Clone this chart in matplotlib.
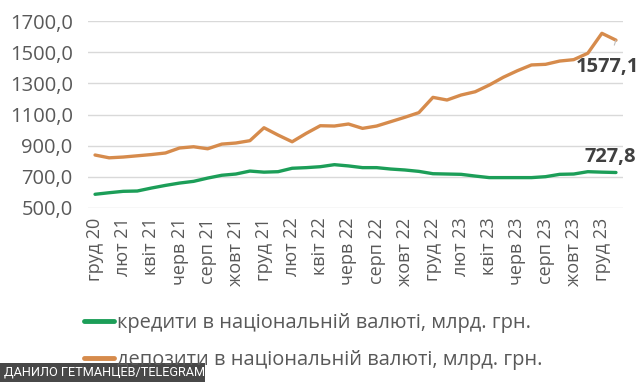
import numpy as np
import matplotlib.pyplot as plt
from matplotlib.patches import Rectangle

plt.rcParams['font.family'] = ['Open Sans', 'DejaVu Sans']

# підписи осі X (кожен другий місяць, груд 2020 - груд 2023)
tick_labels = ['груд 20', 'лют 21', 'квіт 21', 'черв 21', 'серп 21', 'жовт 21',
               'груд 21', 'лют 22', 'квіт 22', 'черв 22', 'серп 22', 'жовт 22',
               'груд 22', 'лют 23', 'квіт 23', 'черв 23', 'серп 23', 'жовт 23',
               'груд 23']

# кредити в національній валюті, млрд. грн (груд 20 - січ 24)
kredyty = [588, 598, 607, 609, 628, 645, 660, 671, 692, 710, 718, 737,
           730, 733, 755, 759, 765, 778, 770, 759, 759, 750, 744, 735,
           720, 718, 716, 705, 695, 695, 695, 695, 701, 716, 718, 733,
           730, 727.8]

# депозити в національній валюті, млрд. грн
depozyty = [840, 822, 827, 835, 843, 853, 885, 893, 880, 910, 917, 932,
            1015, 968, 925, 979, 1028, 1026, 1039, 1011, 1026, 1054, 1082, 1112,
            1210, 1193, 1225, 1246, 1289, 1339, 1381, 1418, 1422, 1443, 1452, 1493,
            1621, 1577.1]

label_k = 'кредити в національній валюті, млрд. грн.'
label_d = 'депозити в національній валюті, млрд. грн.'

green = '#1c9e58'
orange = '#d68b4c'

fig = plt.figure(figsize=(6.42, 3.82), dpi=100)
ax = fig.add_axes([88/642, 1 - 208/382, 535/642, 187/382])

x = np.arange(len(kredyty))
lk, = ax.plot(x, kredyty, color=green, lw=2.4, solid_capstyle='round')
ld, = ax.plot(x, depozyty, color=orange, lw=2.4, solid_capstyle='round')

ax.set_ylim(500, 1700)
ax.set_yticks(np.arange(500, 1701, 200))
ax.set_yticklabels([f'{v},0' for v in range(500, 1701, 200)])
ax.set_xlim(-0.5, 37.5)
ax.set_xticks(x[::2])
ax.set_xticklabels(tick_labels, rotation=90)

ax.grid(axis='y', color='#d9d9d9', lw=1)
ax.set_axisbelow(True)
for s in ax.spines.values():
    s.set_visible(False)
ax.tick_params(length=0, colors='#595959')
ax.tick_params(axis='y', labelsize=14.5, pad=11)
ax.tick_params(axis='x', labelsize=13, pad=7)

# підписи останніх значень
ax.annotate('1577,1', xy=(x[-1], depozyty[-1]), xytext=(-9, -27),
            textcoords='offset pixels', ha='center', va='center',
            fontsize=14.5, fontweight='bold', color='#404040',
            arrowprops=dict(arrowstyle='-', color='#c0c0c0', lw=0.8,
                            shrinkA=7, shrinkB=0))
ax.annotate('727,8', xy=(x[-1], kredyty[-1]), xytext=(-6, 16),
            textcoords='offset pixels', ha='center', va='center',
            fontsize=14.5, fontweight='bold', color='#404040')

fig.legend([lk, ld], [label_k, label_d], loc='upper left',
           bbox_to_anchor=(66/642, 1 - 295/382), frameon=False,
           fontsize=14.4, handlelength=1.5, handletextpad=0.15,
           labelspacing=0.85, labelcolor='#595959')
for h in fig.legends[0].get_lines():
    h.set_linewidth(3.5)

# плашка з підписом джерела
fig.patches.append(Rectangle((0, 0), 205/642, 19/382, transform=fig.transFigure,
                             facecolor='#2e2e2e', alpha=0.88, edgecolor='none',
                             zorder=5))
fig.text(4/642, 9.5/382, 'ДАНИЛО ГЕТМАНЦЕВ/TELEGRAM', color='white',
         fontsize=9.2, va='center', ha='left', zorder=6,
         family=['Roboto', 'DejaVu Sans'])

fig.savefig('out.png', dpi=100)
